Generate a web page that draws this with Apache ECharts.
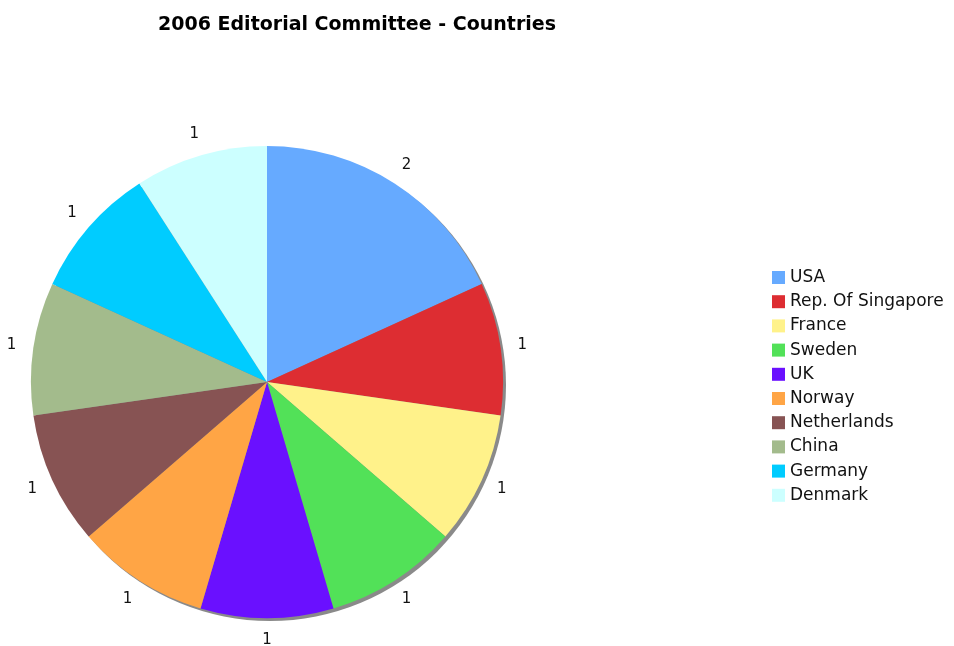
<!DOCTYPE html>
<html>
<head>
<meta charset="utf-8">
<script src="https://cdn.jsdelivr.net/npm/echarts@6/dist/echarts.min.js"></script>
<style>
  html, body { margin: 0; padding: 0; background: #fff; }
  #chart { width: 954px; height: 646px; }
</style>
</head>
<body>
<div id="chart"></div>
<script>
const countries = ['USA', 'Rep. Of Singapore', 'France', 'Sweden', 'UK', 'Norway', 'Netherlands', 'China', 'Germany', 'Denmark'];
const members = [2, 1, 1, 1, 1, 1, 1, 1, 1, 1];
const colors = ['#66aaff', '#dd2d32', '#fff28a', '#52e158', '#6a10ff', '#ffa545', '#875353', '#a3bb8c', '#00ccff', '#ccffff'];

const chart = echarts.init(document.getElementById('chart'));
const font = '"DejaVu Sans", Verdana, sans-serif';
const center = [267, 382];
const R = 236;

const option = {
  backgroundColor: '#fff',
  animation: false,
  title: {
    text: '2006 Editorial Committee - Countries',
    left: 352,
    top: 11,
    textAlign: 'center',
    textStyle: { fontFamily: font, fontSize: 19, fontWeight: 'bold', color: '#000' },
  },
  legend: {
    orient: 'vertical',
    left: 767,
    top: 264,
    icon: 'rect',
    itemWidth: 13,
    itemHeight: 13,
    itemGap: 7.2,
    data: countries,
    textStyle: { fontFamily: font, fontSize: 17, color: '#111' },
  },
  series: [
    {
      // drop shadow under the pie
      type: 'pie',
      silent: true,
      center: [center[0] + 3, center[1] + 3],
      radius: R,
      label: { show: false },
      labelLine: { show: false },
      itemStyle: { color: '#8a8a8a' },
      data: [{ value: 1, name: '' }],
      z: 1,
    },
    {
      type: 'pie',
      center: center,
      radius: R,
      startAngle: 90,
      clockwise: true,
      label: { show: false },
      labelLine: { show: false },
      itemStyle: { borderWidth: 0 },
      data: countries.map((c, i) => ({ name: c, value: members[i], itemStyle: { color: colors[i] } })),
      z: 2,
    },
    {
      // transparent ring just outside the pie, carries the centred value labels
      type: 'pie',
      silent: true,
      center: center,
      radius: [R, R + 38],
      startAngle: 90,
      clockwise: true,
      label: {
        show: true,
        position: 'inside',
        formatter: '{c}',
        fontFamily: font,
        fontSize: 15,
        color: '#111',
      },
      labelLine: { show: false },
      itemStyle: { color: 'rgba(0,0,0,0)' },
      data: countries.map((c, i) => ({ name: c, value: members[i] })),
      z: 3,
    },
  ],
};

chart.setOption(option);
</script>
</body>
</html>
